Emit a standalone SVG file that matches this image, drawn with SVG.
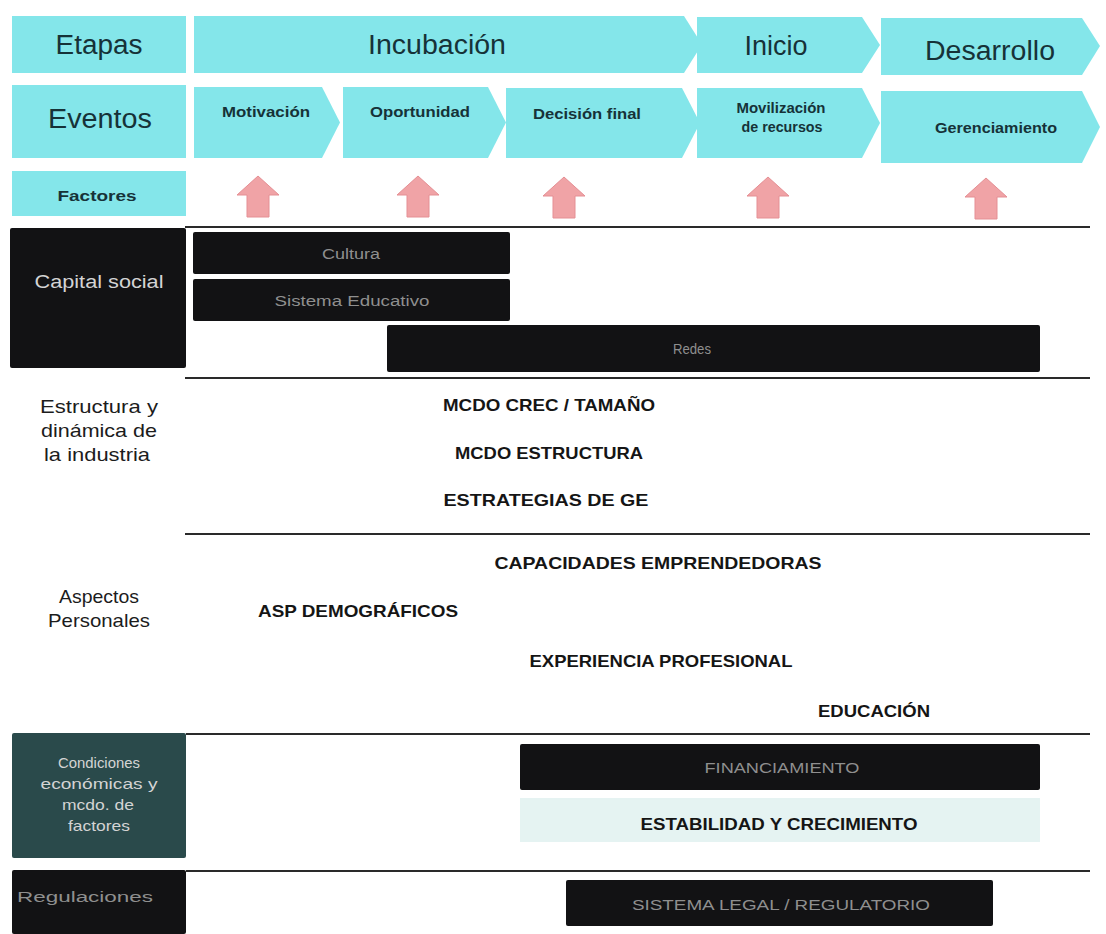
<svg xmlns="http://www.w3.org/2000/svg" width="1106" height="934" viewBox="0 0 1106 934">
<style>
.hd{fill:#84e6ea}
.ht{font-family:"Liberation Sans",Arial,sans-serif;fill:#163238;text-anchor:middle}
.big{font-size:27px}
.ev{font-size:15px;font-weight:bold}
.arrow{fill:#f0a3a6;stroke:#e58f94;stroke-width:1}
.div{stroke:#2a2a2a;stroke-width:2.2}
.blk{fill:#121214}
.bt{font-family:"Liberation Sans",Arial,sans-serif;fill:#8f8f8f;text-anchor:middle;font-size:14px}
.lt{font-family:"Liberation Sans",Arial,sans-serif;fill:#d4d4d4;text-anchor:middle}
.cat{font-family:"Liberation Sans",Arial,sans-serif;fill:#1c1c1c;text-anchor:middle;font-size:18.5px}
.fac{font-family:"Liberation Sans",Arial,sans-serif;fill:#151515;text-anchor:middle;font-size:16.5px;font-weight:bold}
</style>
<rect width="1106" height="934" fill="#ffffff"/>

<!-- header row: Etapas -->
<g id="etapas">
<rect class="hd" x="12" y="16" width="174" height="57"/>
<text class="ht big" x="99" y="54" textLength="87" lengthAdjust="spacingAndGlyphs">Etapas</text>
</g>
<g id="incubacion">
<path class="hd" d="M194 16 H684 L702 44.5 L684 73 H194 Z"/>
<text class="ht big" x="437" y="54" textLength="138" lengthAdjust="spacingAndGlyphs">Incubación</text>
</g>
<g id="inicio">
<path class="hd" d="M697 17 H862 L880 45 L862 73 H697 Z"/>
<text class="ht big" x="776" y="55" textLength="63" lengthAdjust="spacingAndGlyphs">Inicio</text>
</g>
<g id="desarrollo">
<path class="hd" d="M881 18 H1082 L1100 46 L1082 75 H881 Z"/>
<text class="ht big" x="990" y="60" textLength="130" lengthAdjust="spacingAndGlyphs">Desarrollo</text>
</g>

<!-- events row -->
<g id="eventos">
<rect class="hd" x="12" y="85" width="174" height="73"/>
<text class="ht big" x="100" y="128" textLength="104" lengthAdjust="spacingAndGlyphs">Eventos</text>
</g>
<g id="motivacion">
<path class="hd" d="M194 87 H322 L340 122.5 L322 158 H194 Z"/>
<text class="ht ev" x="266" y="117" textLength="88" lengthAdjust="spacingAndGlyphs">Motivación</text>
</g>
<g id="oportunidad">
<path class="hd" d="M343 87 H488 L506 122.5 L488 158 H343 Z"/>
<text class="ht ev" x="420" y="117" textLength="100" lengthAdjust="spacingAndGlyphs">Oportunidad</text>
</g>
<g id="decision">
<path class="hd" d="M506 88 H682 L700 123 L682 158 H506 Z"/>
<text class="ht ev" x="587" y="119" textLength="108" lengthAdjust="spacingAndGlyphs">Decisión final</text>
</g>
<g id="movilizacion">
<path class="hd" d="M697 88 H862 L880 123 L862 158 H697 Z"/>
<text class="ht ev" x="781" y="113" textLength="89" lengthAdjust="spacingAndGlyphs">Movilización</text>
<text class="ht ev" x="782" y="132" textLength="81" lengthAdjust="spacingAndGlyphs">de recursos</text>
</g>
<g id="gerenciamiento">
<path class="hd" d="M881 91 H1082 L1100 127 L1082 163 H881 Z"/>
<text class="ht ev" x="996" y="133" textLength="122" lengthAdjust="spacingAndGlyphs">Gerenciamiento</text>
</g>

<!-- factores row -->
<g id="factores">
<rect class="hd" x="12" y="171" width="174" height="45"/>
<text class="ht ev" x="97" y="201" textLength="79" lengthAdjust="spacingAndGlyphs">Factores</text>
</g>
<g id="flechas">
<path class="arrow" d="M258 176 L279 195 H269 V217 H247 V195 H237 Z"/>
<path class="arrow" d="M418 176 L439 195 H429 V217 H407 V195 H397 Z"/>
<path class="arrow" d="M564 177 L585 196 H575 V218 H553 V196 H543 Z"/>
<path class="arrow" d="M768 177 L789 196 H779 V218 H757 V196 H747 Z"/>
<path class="arrow" d="M986 178 L1007 197 H997 V219 H975 V197 H965 Z"/>
</g>

<!-- divider lines -->
<g id="conectores">
<line class="div" x1="185" y1="227" x2="1090" y2="227"/>
<line class="div" x1="185" y1="378" x2="1090" y2="378"/>
<line class="div" x1="185" y1="534" x2="1090" y2="534"/>
<line class="div" x1="186" y1="734" x2="1090" y2="734"/>
<line class="div" x1="186" y1="871" x2="1090" y2="871"/>
</g>

<!-- Capital social -->
<g id="capital-social">
<rect class="blk" x="10" y="228" width="176" height="140" rx="2"/>
<text class="lt" x="99" y="288" font-size="18" textLength="129" lengthAdjust="spacingAndGlyphs">Capital social</text>
</g>
<g id="cultura">
<rect class="blk" x="193" y="232" width="317" height="42" rx="2"/>
<text class="bt" x="351" y="259" textLength="58" lengthAdjust="spacingAndGlyphs">Cultura</text>
</g>
<g id="sistema-educativo">
<rect class="blk" x="193" y="279" width="317" height="42" rx="2"/>
<text class="bt" x="352" y="306" textLength="155" lengthAdjust="spacingAndGlyphs">Sistema Educativo</text>
</g>
<g id="redes">
<rect class="blk" x="387" y="325" width="653" height="47" rx="2"/>
<text class="bt" x="692" y="354" textLength="38" lengthAdjust="spacingAndGlyphs">Redes</text>
</g>

<!-- Estructura y dinámica de la industria -->
<g id="estructura">
<text class="cat" x="99" y="413" textLength="118" lengthAdjust="spacingAndGlyphs">Estructura y</text>
<text class="cat" x="99" y="437" textLength="116" lengthAdjust="spacingAndGlyphs">dinámica de</text>
<text class="cat" x="97" y="461" textLength="106" lengthAdjust="spacingAndGlyphs">la industria</text>
</g>
<g id="mcdo-crec"><text class="fac" x="549" y="411" textLength="212" lengthAdjust="spacingAndGlyphs">MCDO CREC / TAMAÑO</text></g>
<g id="mcdo-estructura"><text class="fac" x="549" y="459" textLength="188" lengthAdjust="spacingAndGlyphs">MCDO ESTRUCTURA</text></g>
<g id="estrategias"><text class="fac" x="546" y="506" textLength="205" lengthAdjust="spacingAndGlyphs">ESTRATEGIAS DE GE</text></g>

<!-- Aspectos Personales -->
<g id="aspectos">
<text class="cat" x="99" y="603" textLength="80" lengthAdjust="spacingAndGlyphs">Aspectos</text>
<text class="cat" x="99" y="627" textLength="102" lengthAdjust="spacingAndGlyphs">Personales</text>
</g>
<g id="capacidades"><text class="fac" x="658" y="569" textLength="327" lengthAdjust="spacingAndGlyphs">CAPACIDADES EMPRENDEDORAS</text></g>
<g id="asp-demograficos"><text class="fac" x="358" y="617" textLength="200" lengthAdjust="spacingAndGlyphs">ASP DEMOGRÁFICOS</text></g>
<g id="experiencia"><text class="fac" x="661" y="667" textLength="263" lengthAdjust="spacingAndGlyphs">EXPERIENCIA PROFESIONAL</text></g>
<g id="educacion"><text class="fac" x="874" y="717" textLength="112" lengthAdjust="spacingAndGlyphs">EDUCACIÓN</text></g>

<!-- Condiciones económicas -->
<g id="condiciones">
<rect x="12" y="733" width="174" height="125" rx="2" fill="#2a4a4b"/>
<text class="lt" x="99" y="768" font-size="15" textLength="82" lengthAdjust="spacingAndGlyphs">Condiciones</text>
<text class="lt" x="99" y="789" font-size="15" textLength="117" lengthAdjust="spacingAndGlyphs">económicas y</text>
<text class="lt" x="98" y="810" font-size="15" textLength="72" lengthAdjust="spacingAndGlyphs">mcdo. de</text>
<text class="lt" x="99" y="831" font-size="15" textLength="62" lengthAdjust="spacingAndGlyphs">factores</text>
</g>
<g id="financiamiento">
<rect class="blk" x="520" y="744" width="520" height="46" rx="2"/>
<text class="bt" x="782" y="773" textLength="155" lengthAdjust="spacingAndGlyphs">FINANCIAMIENTO</text>
</g>
<g id="estabilidad">
<rect x="520" y="798" width="520" height="44" fill="#e5f3f2"/>
<text class="fac" x="779" y="830" textLength="277" lengthAdjust="spacingAndGlyphs">ESTABILIDAD Y CRECIMIENTO</text>
</g>

<!-- Regulaciones -->
<g id="regulaciones">
<rect class="blk" x="12" y="870" width="174" height="64" rx="2"/>
<text class="bt" x="85" y="902" fill="#9a9a9a" textLength="136" lengthAdjust="spacingAndGlyphs">Regulaciones</text>
</g>
<g id="sistema-legal">
<rect class="blk" x="566" y="880" width="427" height="46" rx="2"/>
<text class="bt" x="781" y="910" textLength="298" lengthAdjust="spacingAndGlyphs">SISTEMA LEGAL / REGULATORIO</text>
</g>
</svg>
